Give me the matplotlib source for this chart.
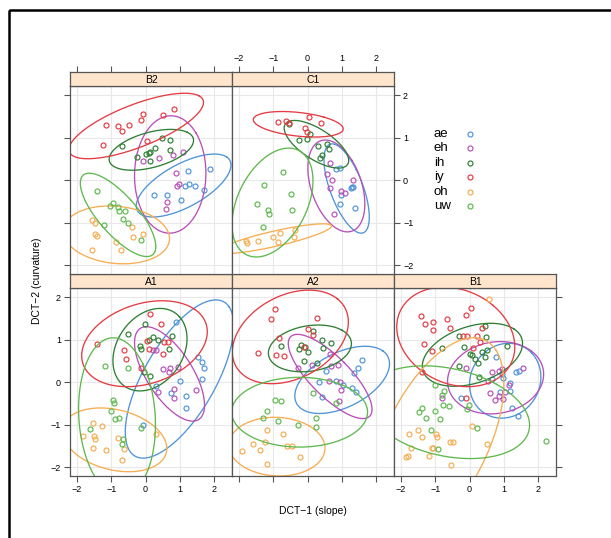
import matplotlib
matplotlib.use('Agg')
import matplotlib.pyplot as plt
import numpy as np
from matplotlib.patches import Rectangle

plt.rcParams['font.family'] = ['Liberation Sans', 'DejaVu Sans']

# vowel categories and colours
vowels = ['ae', 'eh', 'ih', 'iy', 'oh', 'uw']
colours = ['#4F94D9', '#B84FBA', '#2F7F34', '#E53B43', '#F7AD50', '#5FB94E']
panel_names = ['A1', 'A2', 'B1', 'B2', 'C1']

# points: DCT-1 (x), DCT-2 (y) per speaker panel
A1_x = {'ae': [0.88, 1.52, 1.64, 1.69, 1.65, 1.01, 0.31, 0.75, 1.17, 1.17, -0.08],
        'eh': [0.21, 0.31, 0.50, 0.70, 0.94, 0.68, 0.37, 0.83, 0.84, 1.48],
        'ih': [-0.51, -0.01, 0.21, 0.36, 0.10, -0.17, -0.13, 0.78, 0.68, -0.03, 0.14],
        'iy': [0.12, 0.44, -1.42, -0.63, -0.56, 0.05, 0.10, 0.55, 0.65, 0.52, -0.13],
        'oh': [-1.53, -1.26, -1.81, -1.49, -1.47, -0.79, -1.53, -1.15, -0.63, -0.69, 0.31],
        'uw': [-1.19, -0.50, -0.95, -0.93, -1.00, -0.90, -0.76, -1.61, -0.12, -0.66, -0.69]}
A1_y = {'ae': [1.43, 0.60, 0.47, 0.33, 0.07, 0.04, -0.09, -0.24, -0.31, -0.60, -0.99],
        'eh': [0.76, 0.76, 0.31, 0.35, 0.37, 0.25, -0.22, -0.16, -0.36, -0.18],
        'ih': [1.15, 1.38, 1.07, 1.00, 1.00, 0.85, 0.78, 1.10, 0.78, 0.25, 0.15],
        'iy': [1.62, 1.37, 0.90, 0.76, 0.55, 0.98, 0.79, 0.94, 0.94, 0.67, 0.35],
        'oh': [-0.95, -1.02, -1.25, -1.25, -1.33, -1.30, -1.54, -1.59, -1.57, -1.83, -1.22],
        'uw': [0.38, 0.35, -0.42, -0.49, -0.67, -0.85, -0.83, -1.10, -1.07, -1.32, -1.45]}

A2_x = {'ae': [1.60, 1.46, 1.35, 0.55, 0.34, 0.84, 1.31, 1.41, 0.41, 1.04],
        'eh': [-0.27, 0.14, 0.66, 0.68, 0.89, 0.63, 0.94, 0.99, 0.91],
        'ih': [0.17, -0.76, -0.19, -0.08, -0.25, 0.02, 0.41, 0.68, 0.44, -0.10, 0.29],
        'iy': [-0.95, -1.07, 0.28, 0.02, 0.17, -0.83, -1.44, -0.93, -0.69, -0.11],
        'oh': [-1.19, -0.71, -1.24, -1.58, -1.92, -1.39, -0.61, -0.44, -0.21, -1.19],
        'uw': [-0.95, -0.78, -1.17, -1.30, -0.85, -0.27, 0.24, 0.24, 0.17, 0.84]}
A2_y = {'ae': [0.53, 0.35, 0.21, 0.27, 0.0, 0.04, -0.14, -0.22, -0.34, -0.06],
        'eh': [0.35, 0.42, 0.66, 0.39, 0.41, 0.04, 0.0, -0.18, -0.43],
        'ih': [1.22, 0.85, 0.88, 0.84, 0.78, 0.72, 1.00, 0.93, 0.82, 0.51, 0.46],
        'iy': [1.73, 1.49, 1.51, 1.25, 1.11, 1.05, 0.70, 0.64, 0.63, 0.84],
        'oh': [-1.11, -1.22, -1.40, -1.45, -1.61, -1.60, -1.50, -1.50, -1.76, -1.92],
        'uw': [-0.42, -0.43, -0.67, -0.83, -0.90, -1.00, -0.83, -1.04, -0.24, -0.48]}

B1_x = {'ae': [0.78, 1.36, 1.43, 0.94, 0.99, 1.17, 1.18, 0.89, -0.24, 1.25, 1.40, 0.65],
        'eh': [-0.10, 0.53, 0.60, 0.73, 0.85, 0.99, 1.04, 0.87, 0.94, 1.57, 1.14, 0.65, -0.81],
        'ih': [-0.32, 0.49, 0.44, -0.81, -0.16, 0.08, 0.17, 0.24, 0.36, 0.50, 0.46, 1.09, -0.30, 0.29, 0.02],
        'iy': [-1.41, -1.31, -1.07, -1.05, -0.66, -0.56, -0.10, 0.04, -1.34, -1.10, -0.19, -0.08,
               0.21, 0.31, 0.10, 0.36, -0.10, -1.39],
        'oh': [0.57, -1.51, -1.75, -1.37, -0.97, -0.95, -0.56, -0.47, -1.10, -1.05, -1.71, -1.84,
               -1.78, -1.19, -0.54, 0.07, 0.50],
        'uw': [-1.02, -0.73, -0.81, -0.76, -0.61, -1.00, -0.85, -1.26, -1.46, -1.37, -0.06, -0.02,
               0.23, -1.12, -0.92, 2.22]}
B1_y = {'ae': [0.60, 0.25, 0.27, 0.19, 0.11, -0.02, -0.20, -0.22, -0.36, -0.61, -0.78, 0.07],
        'eh': [0.35, 0.03, -0.24, -0.42, -0.31, -0.38, -0.22, 0.27, 0.31, 0.33, -0.06, 0.25, -0.36],
        'ih': [1.10, 1.06, 1.33, 0.80, 0.84, 0.64, 0.54, 0.46, 0.72, 0.76, 0.60, 0.85, 0.38, 0.13, 0.68],
        'iy': [1.57, 1.37, 1.43, 1.23, 1.48, 1.29, 1.58, 1.74, 0.90, 0.74, 1.10, 1.10,
               1.10, 0.94, 0.80, 1.27, -0.36, 0.25],
        'oh': [1.95, -1.11, -1.22, -1.29, -1.22, -1.28, -1.40, -1.40, -1.54, -1.54, -1.54, -1.75,
               -1.73, -1.73, -1.93, -1.03, -1.44],
        'uw': [-0.05, -0.20, -0.30, -0.53, -0.55, -0.67, -0.85, -0.83, -0.69, -0.59, -0.63, -0.52,
               -1.06, -1.11, -1.57, -1.38]}

B2_x = {'ae': [1.25, 1.89, 1.14, 1.26, 1.44, 1.69, 0.24, 0.63, 1.04],
        'eh': [-0.08, 0.38, 0.80, 1.09, 0.89, 0.99, 0.93, 0.63, 0.60],
        'ih': [-0.68, -0.24, 0.0, 0.14, 0.29, 0.47, 0.71, 0.71, 0.12, 0.10],
        'iy': [-0.08, 0.50, 0.83, -0.13, -1.15, -0.81, -0.68, -0.49, -1.24, 0.05],
        'oh': [-1.56, -1.48, -1.46, -1.42, -0.39, -0.08, -0.35, -0.87, -1.56, -0.71],
        'uw': [-1.41, -0.95, -1.02, -0.81, -0.78, -0.61, -0.66, -0.51, -1.21, -0.13]}
B2_y = {'ae': [0.21, 0.27, -0.13, -0.09, -0.12, -0.23, -0.34, -0.35, -0.45],
        'eh': [0.45, 0.52, 0.60, 0.66, 0.17, -0.08, -0.14, -0.51, -0.68],
        'ih': [0.80, 0.56, 0.63, 0.66, 0.77, 0.99, 0.95, 0.72, 0.45, 0.64],
        'iy': [1.56, 1.54, 1.68, 1.43, 1.31, 1.27, 1.17, 1.30, 0.83, 0.92],
        'oh': [-0.94, -0.99, -1.25, -1.30, -1.09, -1.27, -1.33, -1.45, -1.64, -1.63],
        'uw': [-0.25, -0.53, -0.59, -0.63, -0.72, -0.72, -0.90, -1.00, -1.04, -1.41]}

C1_x = {'ae': [0.84, 0.94, 1.26, 1.33, 0.99, 0.94, 1.38, 1.30],
        'eh': [0.66, 0.56, 0.70, 0.66, 1.33, 0.97, 1.09, 0.78],
        'ih': [-0.26, -0.01, 0.08, 0.31, 0.58, 0.62, 0.42, 0.36, -0.53],
        'iy': [-0.85, -0.63, -0.55, 0.05, 0.39, -0.06, -0.02],
        'oh': [-1.79, -1.75, -1.45, -1.00, -0.81, -0.85, -0.37, -0.39],
        'uw': [-0.71, -1.26, -0.49, -1.46, -1.15, -1.13, -0.45, -1.31]}
C1_y = {'ae': [0.26, 0.29, -0.17, -0.16, -0.34, -0.56, -0.65, -0.15],
        'eh': [0.41, 0.14, 0.0, -0.18, 0.02, -0.25, -0.30, -0.78],
        'ih': [0.95, 0.97, 1.08, 0.81, 0.86, 0.74, 0.59, 0.53, 1.33],
        'iy': [1.38, 1.39, 1.34, 1.48, 1.35, 1.23, 1.15],
        'oh': [-1.43, -1.46, -1.42, -1.33, -1.23, -1.45, -1.16, -1.33],
        'uw': [0.20, -0.10, -0.32, -0.56, -0.70, -0.78, -0.70, -1.09]}

# ellipses: centre x, centre y, half-range x, half-range y, correlation
A1_ell = {'ae': (0.99, 0.08, 1.58, 1.86, 0.67), 'eh': (0.70, 0.20, 1.02, 1.11, -0.66),
          'ih': (0.13, 0.77, 1.08, 0.97, 0.27), 'iy': (-0.03, 0.91, 1.83, 1.01, 0.28),
          'oh': (-0.90, -1.35, 1.52, 0.75, -0.27), 'uw': (-0.83, -0.81, 1.12, 1.86, -0.10)}
A2_ell = {'ae': (1.01, 0.06, 1.38, 0.79, 0.48), 'eh': (0.66, 0.14, 1.22, 0.99, -0.78),
          'ih': (0.07, 0.80, 1.21, 0.55, 0.20), 'iy': (-0.50, 1.07, 1.69, 1.10, 0.32),
          'oh': (-0.89, -1.51, 1.40, 0.69, -0.05), 'uw': (-0.23, -0.70, 1.98, 0.82, 0.0)}
B1_ell = {'ae': (1.04, 0.04, 1.04, 0.88, 0.10), 'eh': (0.76, 0.11, 1.40, 0.85, 0.10),
          'ih': (0.085, 0.65, 1.46, 0.74, 0.36), 'iy': (-0.40, 1.07, 1.72, 1.17, -0.20),
          'oh': (-0.95, -1.35, 1.95, 2.40, 0.55), 'uw': (-0.65, -0.70, 2.40, 1.09, -0.28)}
B2_ell = {'ae': (1.11, -0.12, 1.38, 0.74, 0.65), 'eh': (0.72, 0.14, 1.04, 1.38, 0.02),
          'ih': (0.17, 0.72, 1.23, 0.48, 0.46), 'iy': (-0.27, 1.28, 1.96, 0.77, 0.72),
          'oh': (-0.85, -1.28, 1.55, 0.68, -0.13), 'uw': (-0.80, -0.81, 1.10, 0.98, -0.76)}
C1_ell = {'ae': (1.14, -0.19, 0.66, 1.05, -0.64), 'eh': (0.84, -0.13, 0.83, 1.08, -0.39),
          'ih': (0.26, 0.85, 0.94, 0.56, -0.68), 'iy': (-0.27, 1.32, 1.31, 0.30, -0.36),
          'oh': (-0.95, -1.37, 1.65, 0.35, 0.85), 'uw': (-1.02, -0.52, 1.18, 1.28, 0.40)}

ticks = [-2, -1, 0, 1, 2]

W, H = 611, 538
fig = plt.figure(figsize=(W / 100, H / 100), dpi=100)


def px_axes(left, top, w, h):
    return fig.add_axes([left / W, 1 - (top + h) / H, w / W, h / H])


def ellipse_xy(cx, cy, rx, ry, r):
    t = np.linspace(0, 2 * np.pi, 300)
    d = np.arccos(r)
    return cx + rx * np.cos(t + d / 2), cy + ry * np.cos(t - d / 2)


xlim = (-2.2, 2.52)
ylim = (-2.2, 2.22)
frame_col = '#555555'

# panel position (left, top of plot region) in pixels
layout = {'A1': (70, 288), 'A2': (232, 288), 'B1': (394, 288),
          'B2': (70, 86), 'C1': (232, 86)}
data = {'A1': (A1_x, A1_y, A1_ell), 'A2': (A2_x, A2_y, A2_ell), 'B1': (B1_x, B1_y, B1_ell),
        'B2': (B2_x, B2_y, B2_ell), 'C1': (C1_x, C1_y, C1_ell)}
# which sides carry ticks / labels (lattice alternating style)
tick_sides = {'A1': dict(bottom=True, labelbottom=True, left=True, labelleft=True),
              'A2': dict(bottom=True, labelbottom=False),
              'B1': dict(bottom=True, labelbottom=True, right=True, labelright=False),
              'B2': dict(left=True, labelleft=False),
              'C1': dict(right=True, labelright=True)}
top_ticks = {'B2': False, 'C1': True}

for name in panel_names:
    left, top = layout[name]
    ax = px_axes(left, top, 162, 188)
    xs, ys, ells = data[name]
    for v, c in zip(vowels, colours):
        ax.plot(xs[v], ys[v], 'o', ms=3.6, mfc='none', mec=c, mew=0.85)
        ex, ey = ellipse_xy(*ells[v])
        ax.plot(ex, ey, '-', color=c, lw=0.95)
    ax.set_xlim(*xlim)
    ax.set_ylim(*ylim)
    ax.set_xticks(ticks)
    ax.set_yticks(ticks)
    ax.grid(True, color='#E8E8E8', lw=0.8)
    ax.set_axisbelow(True)
    opts = dict(bottom=False, top=False, left=False, right=False,
                labelbottom=False, labeltop=False, labelleft=False, labelright=False)
    opts.update(tick_sides[name])
    ax.tick_params(direction='out', length=4.5, width=0.8, color=frame_col,
                   labelsize=6.5, pad=2, **opts)
    for s in ax.spines.values():
        s.set_color(frame_col)
        s.set_linewidth(0.9)

    # strip
    sax = px_axes(left, top - 14, 162, 14)
    sax.set_facecolor('#FFE5CC')
    sax.set_xlim(*xlim)
    sax.set_yticks([])
    sax.text(0.5, 0.45, name, transform=sax.transAxes, ha='center', va='center', fontsize=7.5)
    for s in sax.spines.values():
        s.set_color(frame_col)
        s.set_linewidth(0.9)
    if name in top_ticks:
        sax.set_xticks(ticks)
        sax.tick_params(axis='x', direction='out', length=4.5, width=0.8, color=frame_col,
                        labelsize=6.5, pad=2, bottom=False, labelbottom=False,
                        top=True, labeltop=top_ticks[name])
    else:
        sax.set_xticks([])

# overlay in pixel coordinates for legend, labels and frame
ov = fig.add_axes([0, 0, 1, 1])
ov.set_xlim(0, W)
ov.set_ylim(H, 0)
ov.axis('off')
ov.add_patch(Rectangle((9, 10), 700, 700, fill=False, lw=1.8, ec='black', clip_on=False))
for i, (v, c) in enumerate(zip(vowels, colours)):
    yy = 134 + i * 14.4
    ov.text(434, yy, v, fontsize=9.5, ha='left', va='center')
    ov.plot([470], [yy], 'o', ms=3.6, mfc='none', mec=c, mew=0.85)
ov.text(313, 511, 'DCT\u22121 (slope)', fontsize=7.5, ha='center', va='center')
ov.text(37, 281, 'DCT\u22122 (curvature)', fontsize=7.5, ha='center', va='center', rotation=90)

fig.savefig('out.png', dpi=100)
